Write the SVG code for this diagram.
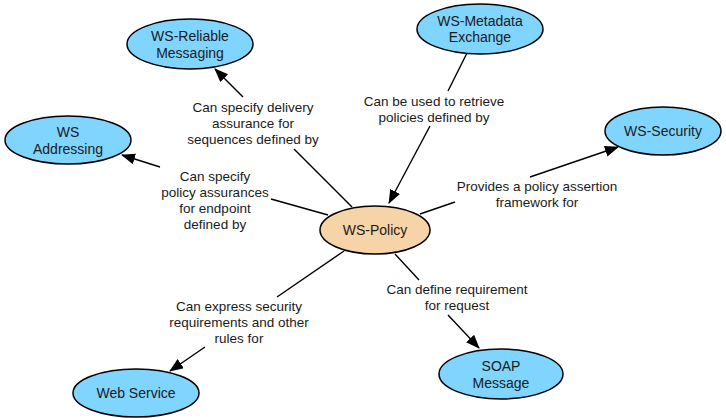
<svg xmlns="http://www.w3.org/2000/svg" width="726" height="418" viewBox="0 0 726 418">
<defs>
<style>
.n{fill:#80d5ff;stroke:#000;stroke-width:1.5}
.p{fill:#f6d4a7;stroke:#000;stroke-width:1.5}
text{font-family:"Liberation Sans",Arial,Helvetica,sans-serif;font-size:13.5px;fill:#1a1a1a;text-anchor:middle}
.nt{font-size:14px}
.c line{stroke:#000;stroke-width:1.4}
</style>
<marker id="ah" markerWidth="14" markerHeight="12" refX="13" refY="5.5" orient="auto" markerUnits="userSpaceOnUse">
<path d="M0,0 L14,5.5 L0,11 Z" fill="#000"/>
</marker>
</defs>
<rect width="726" height="418" fill="#fff"/>
<g id="connectors" class="c">
<line x1="352" y1="207" x2="294" y2="149"/>
<line x1="243" y1="97" x2="215" y2="69" marker-end="url(#ah)"/>
<line x1="328" y1="215" x2="271" y2="199"/>
<line x1="160" y1="167" x2="122" y2="155" marker-end="url(#ah)"/>
<line x1="467" y1="53" x2="448" y2="91"/>
<line x1="430" y1="126" x2="389" y2="203" marker-end="url(#ah)"/>
<line x1="420" y1="214" x2="455" y2="202"/>
<line x1="530" y1="177" x2="618" y2="147" marker-end="url(#ah)"/>
<line x1="344" y1="251" x2="277" y2="297"/>
<line x1="205" y1="347" x2="170" y2="371" marker-end="url(#ah)"/>
<line x1="395" y1="254" x2="419" y2="280"/>
<line x1="448" y1="315" x2="479" y2="348" marker-end="url(#ah)"/>
</g>
<g id="labels">
<text x="253" y="112">Can specify delivery</text>
<text x="253" y="128">assurance for</text>
<text x="253" y="144">sequences defined by</text>
<text x="215" y="181">Can specify</text>
<text x="215" y="197">policy assurances</text>
<text x="215" y="213">for endpoint</text>
<text x="215" y="229">defined by</text>
<text x="434" y="106">Can be used to retrieve</text>
<text x="434" y="122">policies defined by</text>
<text x="537" y="191">Provides a policy assertion</text>
<text x="537" y="207">framework for</text>
<text x="239" y="311">Can express security</text>
<text x="239" y="327">requirements and other</text>
<text x="239" y="343">rules for</text>
<text x="457" y="294">Can define requirement</text>
<text x="457" y="310">for request</text>
</g>
<g id="ws-reliable">
<ellipse class="n" cx="190" cy="44" rx="63" ry="25"/>
<text class="nt" x="190" y="41">WS-Reliable</text>
<text class="nt" x="190" y="58">Messaging</text>
</g>
<g id="ws-addressing">
<ellipse class="n" cx="68" cy="140" rx="63" ry="24"/>
<text class="nt" x="68" y="137">WS</text>
<text class="nt" x="68" y="154">Addressing</text>
</g>
<g id="ws-metadata">
<ellipse class="n" cx="480" cy="29" rx="63" ry="25"/>
<text class="nt" x="480" y="26">WS-Metadata</text>
<text class="nt" x="480" y="42">Exchange</text>
</g>
<g id="ws-security">
<ellipse class="n" cx="663" cy="131" rx="58" ry="24"/>
<text class="nt" x="663" y="136">WS-Security</text>
</g>
<g id="ws-policy">
<ellipse class="p" cx="375" cy="230" rx="55" ry="24"/>
<text class="nt" x="375" y="235">WS-Policy</text>
</g>
<g id="web-service">
<ellipse class="n" cx="136" cy="393" rx="63" ry="24"/>
<text class="nt" x="136" y="398">Web Service</text>
</g>
<g id="soap-message">
<ellipse class="n" cx="501" cy="374" rx="62" ry="25"/>
<text class="nt" x="501" y="371">SOAP</text>
<text class="nt" x="501" y="388">Message</text>
</g>
</svg>
